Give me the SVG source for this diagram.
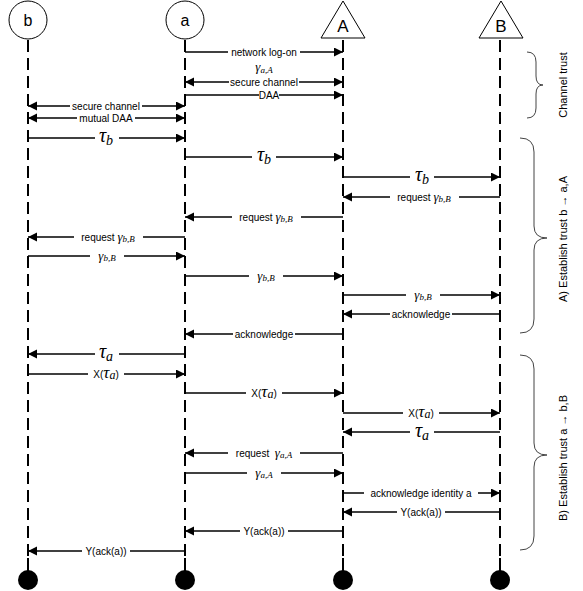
<svg xmlns="http://www.w3.org/2000/svg" width="583" height="591" viewBox="0 0 583 591">
<style>
.head{fill:#fff;stroke:#000;stroke-width:1}
.life{stroke:#000;stroke-width:2;stroke-dasharray:12 6;fill:none}
.tail{stroke:#000;stroke-width:2}
.end{fill:#000}
.name{font-family:"Liberation Sans",Arial,sans-serif;font-size:17px;text-anchor:middle;fill:#000}
.msg{stroke:#000;stroke-width:1.3;fill:none}
.one{marker-end:url(#ah)}
.two{marker-start:url(#ah);marker-end:url(#ah)}
.lbl{font-family:"Liberation Sans",Arial,sans-serif;font-size:10px;text-anchor:middle;fill:#000}
.bg{fill:#fff;stroke:none}
.m{font-family:"Liberation Serif","Times New Roman",serif;font-style:italic}
.g{font-size:13px}
.s{font-size:9px}
.t{font-size:20px}
.ts{font-size:14px}
.brace{fill:none;stroke:#444;stroke-width:1}
.side{font-family:"Liberation Sans",Arial,sans-serif;font-size:11px;text-anchor:middle;fill:#000}
</style>
<defs>
<marker id="ah" markerUnits="userSpaceOnUse" markerWidth="10" markerHeight="10" refX="9" refY="4.5" orient="auto-start-reverse">
<path d="M0,0 L9,4.5 L0,9 z" fill="#000"/>
</marker>
</defs>
<rect width="583" height="591" fill="#fff"/>

<g id="node-b">
<line class="life" x1="28" y1="40" x2="28" y2="560"/>
<line class="tail" x1="28" y1="558" x2="28" y2="572"/>
<circle class="end" cx="28" cy="580" r="10"/>
<circle class="head" cx="28" cy="20" r="19"/>
<text class="name" x="28" y="26" style="font-size:16px">b</text>
</g>
<g id="node-a">
<line class="life" x1="185" y1="40" x2="185" y2="560"/>
<line class="tail" x1="185" y1="558" x2="185" y2="572"/>
<circle class="end" cx="185" cy="580" r="10"/>
<circle class="head" cx="185" cy="20" r="19"/>
<text class="name" x="185" y="26" style="font-size:16px">a</text>
</g>
<g id="node-A">
<line class="life" x1="343" y1="40" x2="343" y2="560"/>
<line class="tail" x1="343" y1="558" x2="343" y2="572"/>
<circle class="end" cx="343" cy="580" r="10"/>
<polygon class="head" points="343,1 365,38 321,38"/>
<text class="name" x="343" y="32">A</text>
</g>
<g id="node-B">
<line class="life" x1="500" y1="40" x2="500" y2="560"/>
<line class="tail" x1="500" y1="558" x2="500" y2="572"/>
<circle class="end" cx="500" cy="580" r="10"/>
<polygon class="head" points="501,1 523,38 479,38"/>
<text class="name" x="501" y="32">B</text>
</g>

<g id="connectors">
<line class="msg one" x1="185" y1="52" x2="343" y2="52"/>
<rect class="bg" x="228" y="47" width="72" height="10"/>
<text class="lbl" x="264" y="56">network log-on</text>
<text class="lbl" x="264" y="71"><tspan class="m g">γ</tspan><tspan class="m s" dy="2">a,A</tspan></text>

<line class="msg two" x1="185" y1="82" x2="343" y2="82"/>
<rect class="bg" x="229" y="77" width="70" height="10"/>
<text class="lbl" x="264" y="85.5">secure channel</text>
<line class="msg one" x1="185" y1="95" x2="343" y2="95"/>
<rect class="bg" x="259" y="90" width="20" height="10"/>
<text class="lbl" x="269" y="98.5">DAA</text>

<line class="msg two" x1="28" y1="106" x2="185" y2="106"/>
<rect class="bg" x="70" y="101" width="72" height="10"/>
<text class="lbl" x="106" y="109.5">secure channel</text>
<line class="msg two" x1="28" y1="118" x2="185" y2="118"/>
<rect class="bg" x="77" y="113" width="58" height="10"/>
<text class="lbl" x="106" y="121.5">mutual DAA</text>

<line class="msg one" x1="28" y1="138" x2="185" y2="138"/>
<rect class="bg" x="95" y="130" width="24" height="16"/>
<text class="lbl" x="106" y="142"><tspan class="m t">τ</tspan><tspan class="m ts" dy="3">b</tspan></text>
<line class="msg one" x1="185" y1="157" x2="343" y2="157"/>
<rect class="bg" x="252" y="149" width="24" height="16"/>
<text class="lbl" x="264" y="161"><tspan class="m t">τ</tspan><tspan class="m ts" dy="3">b</tspan></text>
<line class="msg one" x1="343" y1="177" x2="500" y2="177"/>
<rect class="bg" x="410" y="169" width="24" height="16"/>
<text class="lbl" x="422" y="181"><tspan class="m t">τ</tspan><tspan class="m ts" dy="3">b</tspan></text>

<line class="msg one" x1="500" y1="197" x2="343" y2="197"/>
<rect class="bg" x="390" y="191" width="69" height="12"/>
<text class="lbl" x="424" y="200.5">request <tspan class="m g">γ</tspan><tspan class="m s" dy="1.5">b,B</tspan></text>
<line class="msg one" x1="343" y1="217" x2="185" y2="217"/>
<rect class="bg" x="232" y="211" width="69" height="12"/>
<text class="lbl" x="266" y="220.5">request <tspan class="m g">γ</tspan><tspan class="m s" dy="1.5">b,B</tspan></text>
<line class="msg one" x1="185" y1="237" x2="28" y2="237"/>
<rect class="bg" x="74" y="231" width="69" height="12"/>
<text class="lbl" x="108" y="240.5">request <tspan class="m g">γ</tspan><tspan class="m s" dy="1.5">b,B</tspan></text>

<line class="msg one" x1="28" y1="256" x2="185" y2="256"/>
<rect class="bg" x="90" y="250" width="34" height="12"/>
<text class="lbl" x="107" y="259.5"><tspan class="m g">γ</tspan><tspan class="m s" dy="1.5">b,B</tspan></text>
<line class="msg one" x1="185" y1="276" x2="343" y2="276"/>
<rect class="bg" x="249" y="270" width="34" height="12"/>
<text class="lbl" x="266" y="279.5"><tspan class="m g">γ</tspan><tspan class="m s" dy="1.5">b,B</tspan></text>
<line class="msg one" x1="343" y1="295" x2="500" y2="295"/>
<rect class="bg" x="406" y="289" width="34" height="12"/>
<text class="lbl" x="423" y="298.5"><tspan class="m g">γ</tspan><tspan class="m s" dy="1.5">b,B</tspan></text>

<line class="msg one" x1="500" y1="314" x2="343" y2="314"/>
<rect class="bg" x="390" y="309" width="62" height="10"/>
<text class="lbl" x="421" y="317.5">acknowledge</text>
<line class="msg one" x1="343" y1="334" x2="185" y2="334"/>
<rect class="bg" x="233" y="329" width="62" height="10"/>
<text class="lbl" x="264" y="337.5">acknowledge</text>

<line class="msg one" x1="185" y1="354" x2="28" y2="354"/>
<rect class="bg" x="95" y="346" width="24" height="16"/>
<text class="lbl" x="106" y="358"><tspan class="m t">τ</tspan><tspan class="m ts" dy="3">a</tspan></text>
<line class="msg one" x1="28" y1="374" x2="185" y2="374"/>
<rect class="bg" x="88" y="367" width="36" height="14"/>
<text class="lbl" x="106" y="377.5">X(<tspan class="m" style="font-size:17px">τ</tspan><tspan class="m" style="font-size:12px" dy="1.5">a</tspan><tspan dy="-1.5">)</tspan></text>
<line class="msg one" x1="185" y1="393" x2="343" y2="393"/>
<rect class="bg" x="246" y="386" width="36" height="14"/>
<text class="lbl" x="264" y="396.5">X(<tspan class="m" style="font-size:17px">τ</tspan><tspan class="m" style="font-size:12px" dy="1.5">a</tspan><tspan dy="-1.5">)</tspan></text>
<line class="msg one" x1="343" y1="413" x2="500" y2="413"/>
<rect class="bg" x="403" y="406" width="36" height="14"/>
<text class="lbl" x="421" y="416.5">X(<tspan class="m" style="font-size:17px">τ</tspan><tspan class="m" style="font-size:12px" dy="1.5">a</tspan><tspan dy="-1.5">)</tspan></text>
<line class="msg one" x1="500" y1="432" x2="343" y2="432"/>
<rect class="bg" x="410" y="424" width="24" height="16"/>
<text class="lbl" x="422" y="436.5"><tspan class="m t">τ</tspan><tspan class="m ts" dy="3">a</tspan></text>

<line class="msg one" x1="343" y1="453" x2="185" y2="453"/>
<rect class="bg" x="228" y="447" width="72" height="12"/>
<text class="lbl" x="264" y="456.5">request&#160;&#160;<tspan class="m g">γ</tspan><tspan class="m s" dy="1.5">a,A</tspan></text>
<line class="msg one" x1="185" y1="473" x2="343" y2="473"/>
<rect class="bg" x="247" y="467" width="34" height="12"/>
<text class="lbl" x="264" y="476.5"><tspan class="m g">γ</tspan><tspan class="m s" dy="1.5">a,A</tspan></text>
<line class="msg one" x1="343" y1="493" x2="500" y2="493"/>
<rect class="bg" x="364" y="488" width="114" height="10"/>
<text class="lbl" x="421" y="496.5">acknowledge identity a</text>
<line class="msg one" x1="500" y1="512" x2="343" y2="512"/>
<rect class="bg" x="397" y="507" width="48" height="10"/>
<text class="lbl" x="421" y="515.5">Y(ack(a))</text>
<line class="msg one" x1="343" y1="531" x2="185" y2="531"/>
<rect class="bg" x="240" y="526" width="48" height="10"/>
<text class="lbl" x="264" y="534.5">Y(ack(a))</text>
<line class="msg one" x1="185" y1="551" x2="28" y2="551"/>
<rect class="bg" x="82" y="546" width="48" height="10"/>
<text class="lbl" x="106" y="554.5">Y(ack(a))</text>
</g>

<g id="brace-channel">
<path class="brace" d="M527,52 Q536,52 536,62 L536,76 Q536,85 543,85 Q536,85 536,94 L536,108 Q536,118 527,118"/>
<text class="side" transform="translate(567,85) rotate(-90)">Channel trust</text>
</g>
<g id="brace-A">
<path class="brace" d="M520,138 Q534,138 534,152 L534,226 Q534,238 547,238 Q534,238 534,250 L534,319 Q534,333 520,333"/>
<text class="side" transform="translate(567,239) rotate(-90)">A) Establish trust b → a,A</text>
</g>
<g id="brace-B">
<path class="brace" d="M520,355 Q534,355 534,369 L534,443 Q534,455 547,455 Q534,455 534,467 L534,536 Q534,550 520,550"/>
<text class="side" transform="translate(567,458) rotate(-90)">B) Establish trust a → b,B</text>
</g>
</svg>
